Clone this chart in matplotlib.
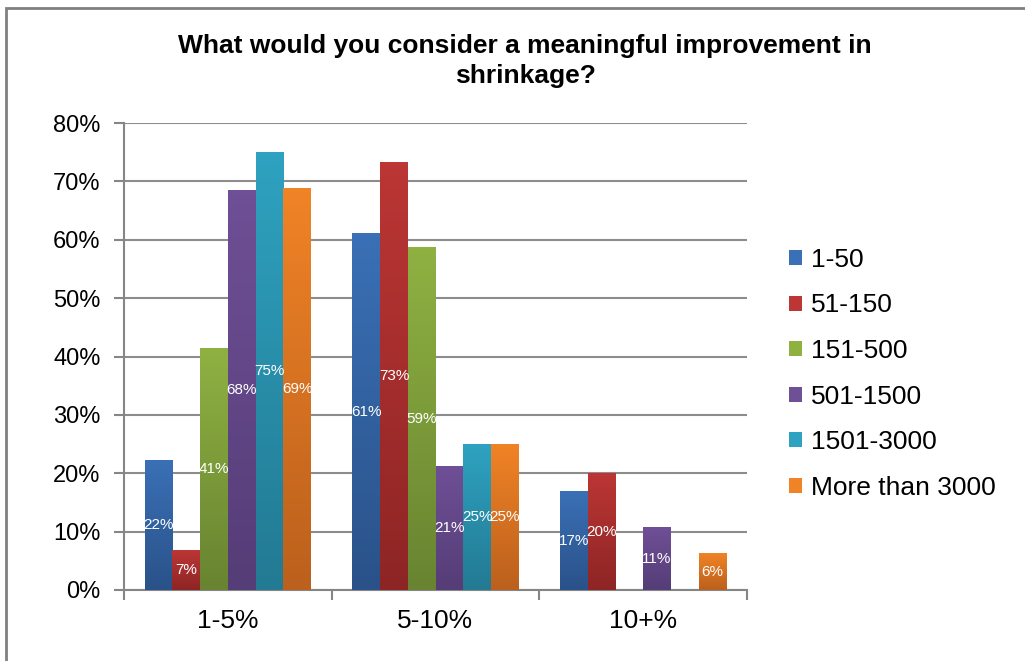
import numpy as np
import matplotlib
matplotlib.use('Agg')
import matplotlib.pyplot as plt
from matplotlib.colors import LinearSegmentedColormap
from matplotlib.patches import Rectangle

plt.rcParams['font.family'] = ['Liberation Sans', 'DejaVu Sans']

# Dados
categorias = ['1-5%', '5-10%', '10+%']
series = ['1-50', '51-150', '151-500', '501-1500', '1501-3000', 'More than 3000']
v_1_50 = [22.2, 61.1, 16.9]
v_51_150 = [6.7, 73.3, 20.0]
v_151_500 = [41.4, 58.6, 0.0]
v_501_1500 = [68.4, 21.1, 10.7]
v_1501_3000 = [75.0, 25.0, 0.0]
v_3000 = [68.8, 25.0, 6.3]
valores = [v_1_50, v_51_150, v_151_500, v_501_1500, v_1501_3000, v_3000]

# cores (topo, base) do gradiente
cores_topo = ['#3a70b6', '#bb3634', '#8fb142', '#6f4f96', '#2ea2c0', '#f08326']
cores_base = ['#2a5289', '#8e2525', '#688431', '#553d77', '#237a93', '#bb601d']

fig = plt.figure(figsize=(10.25, 6.61), dpi=100)
ax = fig.add_axes([124 / 1025, 1 - 590 / 661, (747 - 124) / 1025, (590 - 123) / 661])

x = np.arange(len(categorias))
n = len(series)
larg = 0.8 / n

for i, (nome, vals) in enumerate(zip(series, valores)):
    pos = x - 0.4 + larg * (i + 0.5)
    barras = ax.bar(pos, vals, width=larg, color=cores_topo[i], label=nome, zorder=3)
    cmap = LinearSegmentedColormap.from_list('g%d' % i, [cores_base[i], cores_topo[i]])
    for b, v in zip(barras, vals):
        if v <= 0:
            continue
        x0, w, h = b.get_x(), b.get_width(), b.get_height()
        grad = np.linspace(0, 1, 100).reshape(-1, 1)
        ax.imshow(grad, extent=[x0, x0 + w, 0, h], origin='lower', aspect='auto',
                  cmap=cmap, zorder=3.5)
        ax.text(x0 + w / 2, h / 2, f'{round(v)}%', ha='center', va='center',
                color='white', fontsize=11, zorder=5)

ax.set_xlim(-0.5, 2.5)
ax.set_ylim(0, 80)
ax.set_yticks(np.arange(0, 81, 10))
ax.set_yticklabels([f'{t}%' for t in range(0, 81, 10)], fontsize=17)
ax.set_xticks([-0.5, 0.5, 1.5, 2.5])
ax.set_xticklabels([])
ax.set_xticks(x, minor=True)
ax.set_xticklabels(categorias, minor=True, fontsize=19)
ax.tick_params(axis='x', which='minor', length=0, pad=14)
ax.tick_params(axis='x', which='major', length=7, color='#868686', width=1.5, direction='out')
ax.tick_params(axis='y', length=7, color='#868686', width=1.5, pad=10)
ax.grid(axis='y', color='#8c8c8c', linewidth=1.5, zorder=0)
ax.set_axisbelow(True)
for s in ['top', 'right']:
    ax.spines[s].set_visible(False)
for s in ['left', 'bottom']:
    ax.spines[s].set_color('#868686')
    ax.spines[s].set_linewidth(1.5)

fig.text(525 / 1025, 1 - 61 / 661, 'What would you consider a meaningful improvement in\nshrinkage?',
         ha='center', va='center', fontsize=19, fontweight='bold', linespacing=1.35)

leg = fig.legend(loc='upper left', bbox_to_anchor=(765 / 1025, 1 - 224 / 661), frameon=False,
                 fontsize=19, handlelength=0.5, handleheight=0.5, handletextpad=0.35,
                 labelspacing=0.82)

# moldura
fig.patches.append(Rectangle((6 / 1025, -0.05), 1.1, 1 - 8 / 661 + 0.05, transform=fig.transFigure,
                             fill=False, edgecolor='#808080', linewidth=2))

fig.savefig('out.png', dpi=100)
